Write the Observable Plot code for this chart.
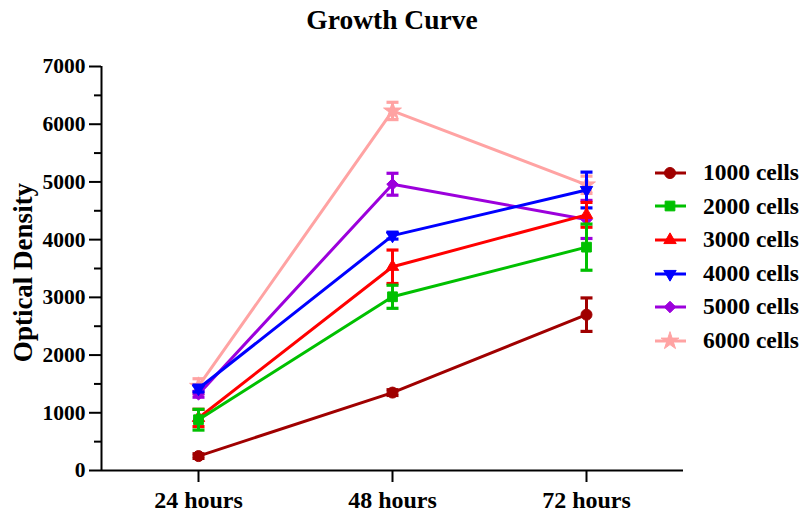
<!DOCTYPE html>
<html><head><meta charset="utf-8">
<script src="https://cdn.jsdelivr.net/npm/d3@7"></script>
<script src="https://cdn.jsdelivr.net/npm/@observablehq/plot@0.6"></script>
<style>
body{margin:0;background:#fff;font-family:"Liberation Serif","Times New Roman",serif;}
#wrap{position:relative;width:802px;height:516px;overflow:hidden;background:#fff;}
#title{position:absolute;left:0;top:0;width:784px;height:40px;line-height:40px;text-align:center;font-size:27.5px;font-weight:bold;color:#000;}
#chart{position:absolute;left:0;top:40px;}
#legend{position:absolute;left:652px;top:156px;}
.row{display:flex;align-items:center;height:33.6px;}
.row svg{display:block}
.row span{font-size:23.5px;font-weight:bold;margin-left:15px;color:#000;white-space:nowrap;line-height:1}
</style></head>
<body>
<div id="wrap">
  <div id="title">Growth Curve</div>
  <div id="chart"></div>
  <div id="legend"></div>
</div>
<script>
// ---- data ----
const hours = ["24 hours", "48 hours", "72 hours"];
const seriesNames = ["1000 cells", "2000 cells", "3000 cells", "4000 cells", "5000 cells", "6000 cells"];
const od1000 = [250, 1350, 2700];
const sd1000 = [40, 50, 290];
const od2000 = [880, 3010, 3870];
const sd2000 = [180, 200, 400];
const od3000 = [910, 3530, 4430];
const sd3000 = [150, 290, 215];
const od4000 = [1420, 4070, 4860];
const sd4000 = [60, 60, 310];
const od5000 = [1320, 4960, 4350];
const sd5000 = [50, 190, 330];
const od6000 = [1460, 6230, 4950];
const sd6000 = [130, 150, 150];
const yTicks = [0, 1000, 2000, 3000, 4000, 5000, 6000, 7000];
const yMinorTicks = [500, 1500, 2500, 3500, 4500, 5500, 6500];

// ---- styles ----
const colors = ["#a00000", "#00c000", "#ff0000", "#0000ff", "#9c00dc", "#ffa3a3"];
const triDown = {draw(ctx, size) {
  const flip = {moveTo: (x, y) => ctx.moveTo(x, -y), lineTo: (x, y) => ctx.lineTo(x, -y), closePath: () => ctx.closePath()};
  d3.symbolTriangle.draw(flip, size);
}};
const capSym = {draw(ctx) { ctx.moveTo(-6, 0); ctx.lineTo(6, 0); }};
const symbols = [d3.symbolCircle, d3.symbolSquare, d3.symbolTriangle, triDown, d3.symbolDiamond2, d3.symbolStar];
const radii = [5.5, 5.5, 4.6, 4.6, 5.2, 5.6];

const means = [od1000, od2000, od3000, od4000, od5000, od6000];
const sds = [sd1000, sd2000, sd3000, sd4000, sd5000, sd6000];
const series = seriesNames.map((name, s) => ({
  name, color: colors[s], symbol: symbols[s], r: radii[s],
  rows: hours.map((h, i) => ({i, hour: h, mean: means[s][i], sd: sds[s][i], lo: means[s][i] - sds[s][i], hi: means[s][i] + sds[s][i]}))
}));

const marks = [];
// draw last series first so the 1000-cell series sits on top
for (const s of series.slice().reverse()) {
  marks.push(Plot.ruleX(s.rows, {x: "i", y1: "lo", y2: "hi", stroke: s.color, strokeWidth: 3}));
  marks.push(Plot.dot(s.rows, {x: "i", y: "lo", symbol: capSym, fill: "none", stroke: s.color, strokeWidth: 3.2}));
  marks.push(Plot.dot(s.rows, {x: "i", y: "hi", symbol: capSym, fill: "none", stroke: s.color, strokeWidth: 3.2}));
  marks.push(Plot.line(s.rows, {x: "i", y: "mean", stroke: s.color, strokeWidth: 3}));
  marks.push(Plot.dot(s.rows, {x: "i", y: "mean", symbol: s.symbol, r: s.r, fill: s.color, stroke: s.color, strokeWidth: 1}));
}

const chart = Plot.plot({
  width: 802, height: 476,
  marginLeft: 101, marginRight: 119, marginTop: 26, marginBottom: 46,
  x: {type: "linear", domain: [-0.5, hours.length - 0.5], axis: null},
  y: {domain: [0, 7000], axis: null},
  style: {fontFamily: "Liberation Serif, Times New Roman, serif", fontWeight: "bold", background: "white", color: "black", overflow: "visible"},
  marks: [
    Plot.axisY({ticks: yTicks, tickSize: 12, tickPadding: 4, tickFormat: d => String(d), fontSize: 21.5, strokeWidth: 2, label: null}),
    Plot.axisY({ticks: yMinorTicks, tickSize: 7, tickFormat: () => "", strokeWidth: 2, label: null}),
    Plot.axisX({ticks: hours.map((h, i) => i), tickFormat: i => hours[i], tickSize: 12, tickPadding: 8, fontSize: 24, strokeWidth: 2, label: null}),
    Plot.ruleY([0], {stroke: "black", strokeWidth: 2}),
    Plot.ruleX([-0.5], {y1: 0, y2: 7000, stroke: "black", strokeWidth: 2}),
    Plot.text(["Optical Density"], {frameAnchor: "left", textAnchor: "middle", rotate: -90, dx: -78, dy: 4, fontSize: 27, fontWeight: "bold", fill: "black"}),
    ...marks
  ]
});
document.getElementById("chart").appendChild(chart);

// ---- legend ----
const legend = d3.select("#legend");
series.forEach(s => {
  const row = legend.append("div").attr("class", "row");
  const svg = row.append("svg").attr("width", 36).attr("height", 30);
  svg.append("line").attr("x1", 3).attr("x2", 34).attr("y1", 15).attr("y2", 15)
    .attr("stroke", s.color).attr("stroke-width", 3);
  svg.append("path").attr("transform", "translate(18,15)")
    .attr("d", d3.symbol(s.symbol, s.r * s.r * Math.PI)())
    .attr("fill", s.color).attr("stroke", s.color).attr("stroke-width", 1);
  row.append("span").text(s.name);
});
</script>
</body></html>
